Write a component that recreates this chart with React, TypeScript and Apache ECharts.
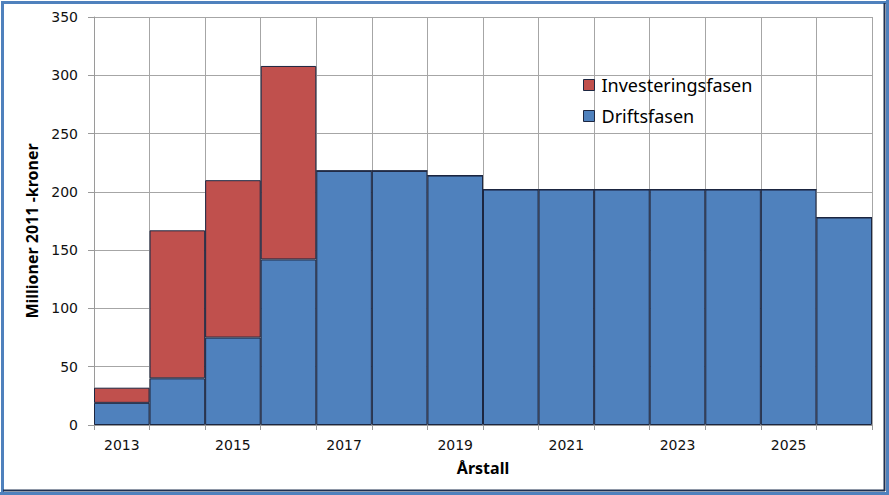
import React, { useEffect, useRef } from "react";
import * as echarts from "echarts";

const years = ["2013","2014","2015","2016","2017","2018","2019","2020","2021","2022","2023","2024","2025","2026"];
const driftsfasen = [19, 40, 75, 142, 218, 218, 214, 202, 202, 202, 202, 202, 202, 178];
const investeringsfasen = [13, 127, 135, 166, 0, 0, 0, 0, 0, 0, 0, 0, 0, 0];
const yTicks = { min: 0, max: 350, interval: 50 };
const yAxisTitle = "Millioner 2011 -kroner";

export default function App() {
  const ref = useRef<HTMLDivElement>(null);
  useEffect(() => {
    if (!ref.current) return;
    const chart = echarts.init(ref.current, undefined, { renderer: "svg" });
    const border = "#1c2640";
    chart.setOption({
      animation: false,
      backgroundColor: "#ffffff",
      grid: { left: 94, right: 17, top: 17, bottom: 70, containLabel: false },
      legend: {
        orient: "vertical",
        left: 578,
        top: 71,
        itemWidth: 11,
        itemHeight: 11,
        itemGap: 13,
        icon: "rect",
        data: ["Investeringsfasen", "Driftsfasen"],
        textStyle: { fontFamily: "Noto Sans", fontSize: 18, color: "#000", padding: [0, 0, 0, 2] },
        itemStyle: { borderColor: border, borderWidth: 1 },
      },
      xAxis: {
        type: "category",
        data: years,
        boundaryGap: true,
        name: "Årstall",
        nameLocation: "middle",
        nameGap: 35,
        nameTextStyle: { fontFamily: "Noto Sans", fontWeight: "bold", fontSize: 16, color: "#000" },
        axisLine: { lineStyle: { color: "#9a9a9a" } },
        axisTick: { show: true, interval: 0, length: 5, lineStyle: { color: "#9a9a9a" } },
        axisLabel: { interval: 1, margin: 13, fontFamily: "DejaVu Sans", fontWeight: "normal", fontSize: 14, color: "#111" },
        splitLine: { show: true, interval: 0, lineStyle: { color: "#a6a6a6", width: 1 } },
      },
      yAxis: {
        type: "value",
        min: yTicks.min,
        max: yTicks.max,
        interval: yTicks.interval,
        axisLine: { show: true, lineStyle: { color: "#9a9a9a" } },
        axisTick: { show: true, length: 6, lineStyle: { color: "#9a9a9a" } },
        axisLabel: { margin: 16, fontFamily: "DejaVu Sans", fontWeight: "normal", fontSize: 14, color: "#111" },
        splitLine: { show: true, lineStyle: { color: "#a6a6a6", width: 1 } },
      },
      series: [
        {
          name: "Driftsfasen",
          type: "bar",
          stack: "total",
          data: driftsfasen,
          barWidth: "100%",
          barCategoryGap: "0%",
          itemStyle: { color: "#4f81bd", borderColor: border, borderWidth: 1 },
        },
        {
          name: "Investeringsfasen",
          type: "bar",
          stack: "total",
          data: investeringsfasen,
          barWidth: "100%",
          barCategoryGap: "0%",
          itemStyle: { color: "#c0504d", borderColor: border, borderWidth: 1 },
        },
      ],
      graphic: [
        {
          type: "text",
          x: 32,
          y: 231,
          rotation: Math.PI / 2,
          silent: true,
          style: {
            text: yAxisTitle,
            fontFamily: "Noto Sans",
            fontWeight: "bold",
            fontSize: 16,
            fill: "#000",
            align: "center",
            verticalAlign: "middle",
          },
        },
        { type: "rect", left: 0, top: 0, shape: { x: 1, y: 1, width: 886, height: 492 }, style: { fill: "none", stroke: "#4f81bd", lineWidth: 3 }, silent: true },
        { type: "line", shape: { x1: 884.5, y1: 3, x2: 884.5, y2: 491 }, style: { stroke: "#1f3050", lineWidth: 2 }, silent: true },
        { type: "line", shape: { x1: 3, y1: 490.5, x2: 885, y2: 490.5 }, style: { stroke: "#1f3050", lineWidth: 2 }, silent: true },
        { type: "line", shape: { x1: 887.5, y1: 0, x2: 887.5, y2: 495 }, style: { stroke: "#4f81bd", lineWidth: 3 }, silent: true },
        { type: "line", shape: { x1: 0, y1: 493.5, x2: 889, y2: 493.5 }, style: { stroke: "#4f81bd", lineWidth: 3 }, silent: true },
      ],
    });
    return () => chart.dispose();
  }, []);
  return <div ref={ref} style={{ position: "fixed", left: 0, top: 0, width: 889, height: 495 }} />;
}
